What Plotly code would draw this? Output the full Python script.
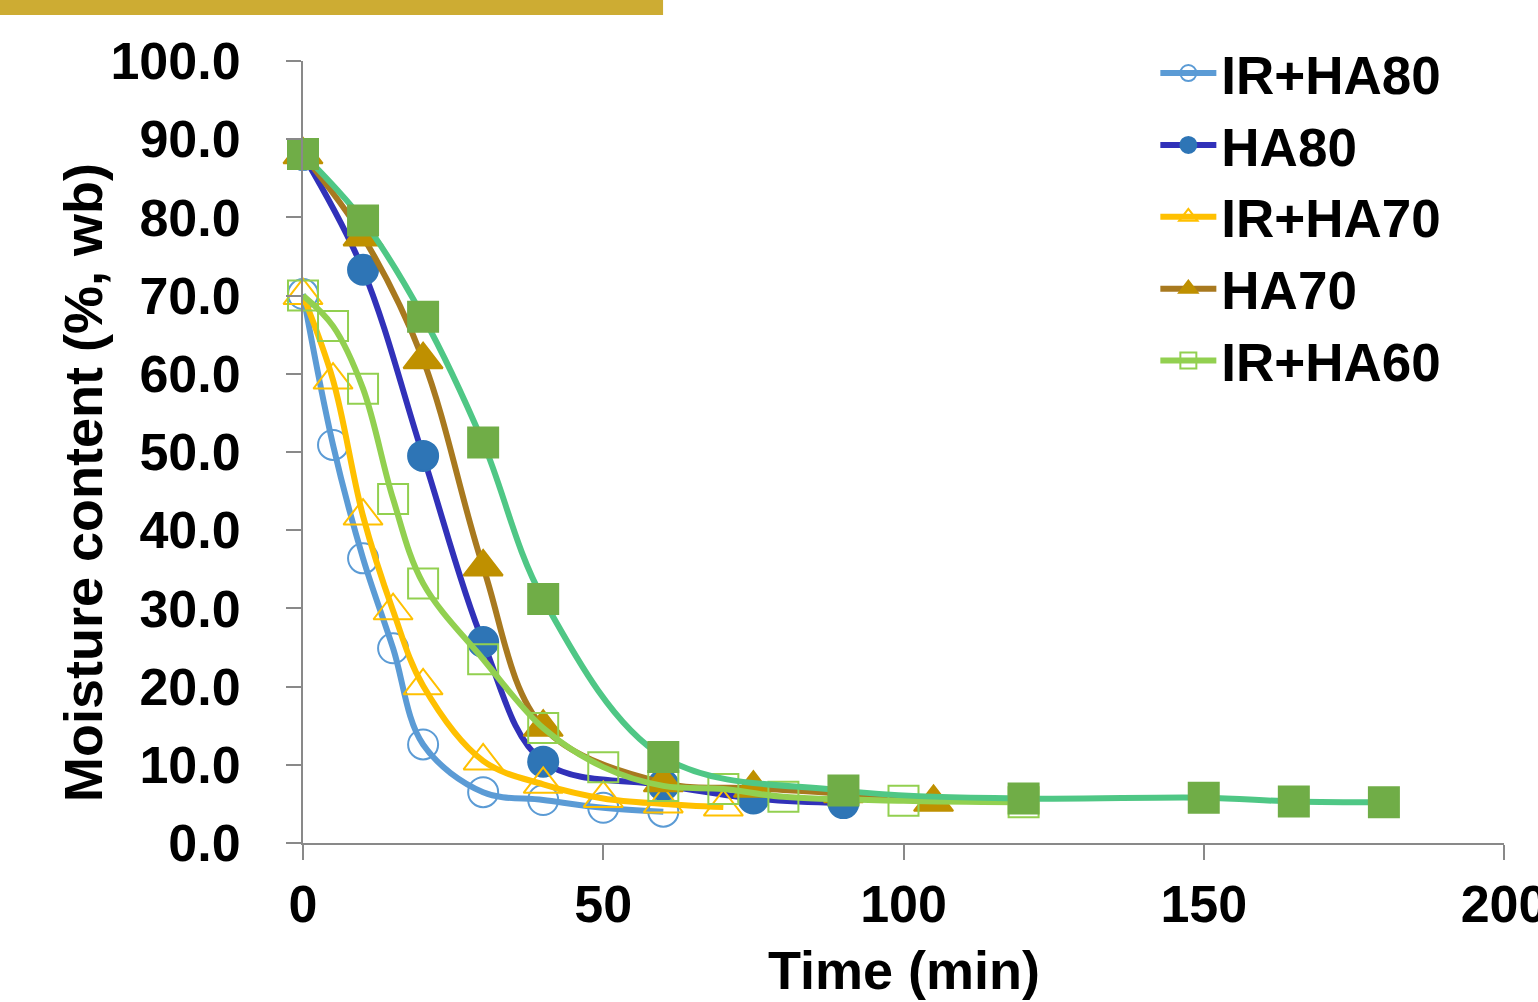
import plotly.graph_objects as go

# ---- data ----
t_irha80 = [0, 5, 10, 15, 20, 30, 40, 50, 60]
mc_irha80 = [70.2, 50.9, 36.4, 24.9, 12.6, 6.5, 5.5, 4.5, 4.0]

t_ha80 = [0, 10, 20, 30, 40, 60, 75, 90]
mc_ha80 = [88.0, 73.3, 49.5, 25.7, 10.4, 7.4, 5.7, 5.1]

t_irha70 = [0, 5, 10, 15, 20, 30, 40, 50, 60, 70]
mc_irha70 = [70.0, 59.2, 41.8, 29.7, 20.1, 10.5, 7.5, 5.7, 5.0, 4.6]

t_ha70 = [0, 10, 20, 30, 40, 60, 75, 90, 105]
mc_ha70 = [88.0, 77.5, 61.8, 35.3, 14.8, 7.7, 7.0, 6.3, 5.2]

t_irha60 = [0, 5, 10, 15, 20, 30, 40, 50, 60, 70, 80, 100, 120]
mc_irha60 = [70.0, 66.1, 58.1, 44.0, 33.2, 23.5, 14.7, 9.7, 7.3, 6.9, 5.9, 5.4, 5.2]

t_ha60 = [0, 10, 20, 30, 40, 60, 90, 120, 150, 165, 180]
mc_ha60 = [88.1, 79.6, 67.3, 51.2, 31.2, 11.0, 6.7, 5.7, 5.8, 5.3, 5.2]

x_ticks = [0, 50, 100, 150, 200]
y_ticks = [0, 10, 20, 30, 40, 50, 60, 70, 80, 90, 100]

FONT = "Liberation Sans, Arial, sans-serif"
FS = 52
FS_TITLE = 54
FS_LEG = 53

fig = go.Figure()

def add(name, t, v, line_color, symbol, mcolor, mline, size, show=True):
    fig.add_trace(go.Scatter(
        x=t, y=v, name=name, mode="lines+markers",
        line=dict(color=line_color, width=6, shape="spline", smoothing=1),
        marker=dict(symbol=symbol, size=size, color=mcolor,
                    line=dict(color=mline, width=2)),
        cliponaxis=False, showlegend=show,
    ))

add("IR+HA80", t_irha80, mc_irha80, "#5B9BD5", "circle-open", "#5B9BD5", "#5B9BD5", 30)
add("HA80", t_ha80, mc_ha80, "#3131B9", "circle", "#2E75B6", "#2E75B6", 30)
add("IR+HA70", t_irha70, mc_irha70, "#FFC000", "triangle-up-open", "#FFC000", "#FFC000", 34)
add("HA70", t_ha70, mc_ha70, "#A8791F", "triangle-up", "#BF9000", "#BF9000", 34)
add("IR+HA60", t_irha60, mc_irha60, "#92D050", "square-open", "#92D050", "#92D050", 30)
add("HA60", t_ha60, mc_ha60, "#4FC785", "square", "#70AD47", "#70AD47", 30, show=False)

axis_common = dict(
    showline=True, linecolor="#898989", linewidth=2,
    ticks="outside", ticklen=15, tickwidth=2, tickcolor="#898989",
    showgrid=False, zeroline=False, ticklabeloverflow="allow", automargin=False,
    tickfont=dict(family=FONT, size=FS, color="black", weight=700),
)

fig.update_xaxes(range=[0, 200], tickvals=x_ticks, ticklabelstandoff=0, **axis_common)
fig.update_yaxes(range=[0, 100], tickvals=y_ticks, tickformat=".1f", ticklabelstandoff=35, **axis_common)

fig.update_layout(
    width=1538, height=1002,
    margin=dict(l=303, r=34, t=61, b=159, pad=0, autoexpand=False),
    paper_bgcolor="white", plot_bgcolor="white",
    font=dict(family=FONT, size=FS, color="black"),
    legend=dict(
        x=0.7097, y=1.037, xanchor="left", yanchor="top",
        bgcolor="rgba(0,0,0,0)", itemwidth=56,
        font=dict(family=FONT, size=FS_LEG, color="black", weight=700),
        tracegroupgap=0,
    ),
    shapes=[dict(type="rect", xref="paper", yref="paper",
                 x0=-0.26, x1=0.2998, y0=1.0588, y1=1.12,
                 fillcolor="#CDAC33", line=dict(width=0), layer="above")],
    annotations=[
        dict(text="Time (min)", xref="paper", yref="paper", x=0.5, y=-0.1624,
             xanchor="center", yanchor="middle", showarrow=False,
             font=dict(family=FONT, size=FS_TITLE, color="black", weight=700)),
        dict(text="Moisture content (%, wb)", xref="paper", yref="paper",
             x=-0.1832, y=0.4616, xanchor="center", yanchor="middle",
             textangle=-90, showarrow=False,
             font=dict(family=FONT, size=FS_TITLE, color="black", weight=700)),
    ],
)

fig.write_html("out.html", config={"displayModeBar": False},
               post_script="document.body.style.margin='0px';document.body.style.overflow='hidden';")
